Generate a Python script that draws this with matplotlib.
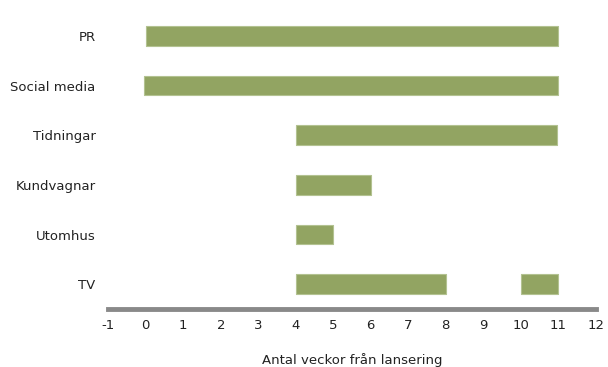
import matplotlib
matplotlib.use("Agg")
from matplotlib import pyplot as plt

# channels, top to bottom
channels = ["PR", "Social media", "Tidningar", "Kundvagnar", "Utomhus", "TV"]
# (start, length) in weeks for each channel
spans = [
    [(0.0, 11.0)],
    [(-0.05, 11.05)],
    [(4.0, 6.97)],
    [(4.0, 2.0)],
    [(4.0, 1.0)],
    [(4.0, 4.0), (10.0, 1.0)],
]
xticks = list(range(-1, 13))

fig = plt.figure(figsize=(6.08, 3.67), dpi=100)
ax = fig.add_axes([0.178, 0.158, 0.802, 0.812])

n = len(channels)
for i, (name, segs) in enumerate(zip(channels, spans)):
    y = n - 1 - i
    ax.broken_barh(segs, (y - 0.2, 0.4), facecolors="#92a462",
                   edgecolors="#b3c291", linewidth=0.8)

ax.set_xlim(-1, 12)
ax.set_ylim(-0.5, n - 0.5)
ax.set_yticks(range(n))
ax.set_yticklabels(channels[::-1], fontsize=9.5, color="#222222")
ax.set_xticks(xticks)
ax.set_xticklabels([str(t) for t in xticks], fontsize=9.5, color="#222222")
ax.tick_params(axis="x", length=0, pad=7)
ax.tick_params(axis="y", length=0, pad=9)

for s in ["top", "right", "left"]:
    ax.spines[s].set_visible(False)
ax.spines["bottom"].set_color("#898989")
ax.spines["bottom"].set_linewidth(3.5)

ax.set_xlabel("Antal veckor från lansering", fontsize=9.5, labelpad=15,
              color="#222222")

fig.savefig("out.png", dpi=100)
